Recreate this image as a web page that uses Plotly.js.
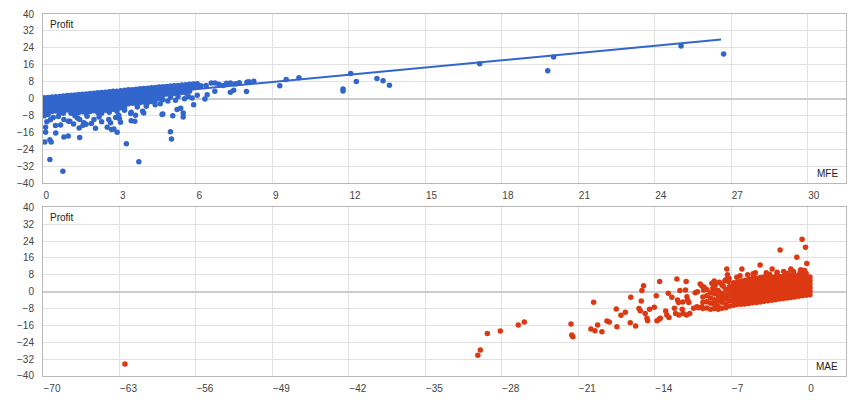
<!DOCTYPE html>
<html>
<head>
<meta charset="utf-8">
<script src="https://cdn.plot.ly/plotly-3.0.1.min.js"></script>
<style>html,body{margin:0;padding:0;background:#fff;}#chart{width:860px;height:400px;}</style>
</head>
<body>
<div id="chart"></div>
<script>
// ---- tick values ----
const mfeTicks = [0, 3, 6, 9, 12, 15, 18, 21, 24, 27, 30];
const maeTicks = [-70, -63, -56, -49, -42, -35, -28, -21, -14, -7, 0];
const profitTicks = [-40, -32, -24, -16, -8, 0, 8, 16, 24, 32, 40];

// ---- MFE vs Profit : dense cluster (read column by column) ----
const mfeCore = [
  0.05,0.05,0.05,0.05,0.05,0.05,
  0.2,0.2,0.2,0.2,0.2,0.2,
  0.35,0.35,0.35,0.35,0.35,
  0.5,0.5,0.5,0.5,0.5,
  0.65,0.65,0.65,0.65,0.65,0.65,
  0.8,0.8,0.8,0.8,0.8,0.8,
  0.95,0.95,0.95,0.95,0.95,
  1.1,1.1,1.1,1.1,1.1,1.1,
  1.25,1.25,1.25,1.25,1.25,1.25,1.25,
  1.4,1.4,1.4,1.4,1.4,1.4,
  1.55,1.55,1.55,1.55,1.55,1.55,
  1.7,1.7,1.7,1.7,1.7,1.7,1.7,
  1.85,1.85,1.85,1.85,1.85,1.85,
  2.0,2.0,2.0,2.0,2.0,2.0,
  2.15,2.15,2.15,2.15,2.15,2.15,2.15,
  2.3,2.3,2.3,2.3,2.3,2.3,2.3,
  2.45,2.45,2.45,2.45,2.45,2.45,
  2.6,2.6,2.6,2.6,2.6,2.6,2.6,
  2.75,2.75,2.75,2.75,2.75,2.75,
  2.9,2.9,2.9,2.9,2.9,2.9,2.9,
  3.05,3.05,3.05,3.05,3.05,3.05,
  3.2,3.2,3.2,3.2,3.2,3.2,
  3.35,3.35,3.35,3.35,3.35,
  3.5,3.5,3.5,3.5,3.5,
  3.65,3.65,3.65,3.65,3.65,
  3.8,3.8,3.8,3.8,3.8,
  3.95,3.95,3.95,3.95,3.95,
  4.1,4.1,4.1,4.1,4.1,
  4.25,4.25,4.25,4.25,4.25,
  4.4,4.4,4.4,4.4,4.4,
  4.55,4.55,4.55,4.55,
  4.7,4.7,4.7,4.7,
  4.85,4.85,4.85,
  5.0,5.0,5.0,5.0,
  5.15,5.15,5.15,
  5.3,5.3,5.3,5.3,
  5.45,5.45,5.45,
  5.6,5.6,5.6,
  5.75,5.75,5.75,
  5.9,5.9,
  6.05,6.05
];
const mfeCoreProfit = [
  0.4,-1.3,-3.0,-4.7,-6.4,-8.1,
  0.5,-1.2,-2.9,-4.6,-6.3,-7.5,
  0.7,-1.0,-2.7,-4.4,-6.1,
  0.9,-0.8,-2.5,-4.2,-5.9,
  1.0,-0.7,-2.4,-4.1,-5.8,-6.8,
  1.2,-0.5,-2.2,-3.9,-5.6,-7.0,
  1.4,-0.3,-2.0,-3.7,-5.4,
  1.5,-0.2,-1.9,-3.6,-5.3,-7.0,
  1.7,0.0,-1.7,-3.4,-5.1,-6.8,-8.2,
  1.9,0.2,-1.5,-3.2,-4.9,-6.6,
  2.0,0.3,-1.4,-3.1,-4.8,-6.3,
  2.2,0.5,-1.2,-2.9,-4.6,-6.3,-7.2,
  2.4,0.7,-1.0,-2.7,-4.4,-6.1,
  2.5,0.8,-0.9,-2.6,-4.3,-5.8,
  2.7,1.0,-0.7,-2.4,-4.1,-5.8,-6.6,
  2.9,1.2,-0.5,-2.2,-3.9,-5.6,-7.0,
  3.0,1.3,-0.4,-2.1,-3.8,-5.5,
  3.2,1.5,-0.2,-1.9,-3.6,-5.3,-6.5,
  3.4,1.7,0.0,-1.7,-3.4,-5.1,
  3.5,1.8,0.1,-1.6,-3.3,-5.0,-6.0,
  3.7,2.0,0.3,-1.4,-3.1,-4.4,
  3.9,2.2,0.5,-1.2,-2.9,-4.0,
  4.1,2.4,0.7,-1.0,-2.5,
  4.2,2.5,0.8,-0.9,-2.2,
  4.4,2.7,1.0,-0.7,-2.4,
  4.6,2.9,1.2,-0.5,-2.0,
  4.7,3.0,1.3,-0.4,-1.6,
  4.9,3.2,1.5,-0.2,-2.0,
  5.1,3.4,1.7,0.0,-1.4,
  5.2,3.5,1.8,0.1,-1.0,
  5.4,3.7,2.0,0.0,
  5.6,3.9,1.6,-0.6,
  5.7,4.0,2.2,
  5.9,4.2,2.5,0.6,
  6.0,4.3,2.4,
  6.2,4.5,2.6,1.0,
  6.4,4.7,3.0,
  6.5,4.6,2.6,
  6.7,5.0,3.4,
  6.9,5.2,
  7.0,5.3
];
// ---- MFE vs Profit : scattered points ----
const mfeOuter = [
  0.1,0.1,0.07,0.27,0.32,0.27,0.78,0.5,0.82,0.99,1.44,0.49,0.69,1.05,1.42,1.57,1.69,2.06,2.52,2.69,2.78,2.91,3.27,3.76,
  2.97,3.0,3.04,3.44,3.46,3.63,3.91,4.7,5.0,5.04,5.09,5.26,5.4,5.5,5.5,5.55,5.85,5.91,6.05,6.35,6.44,6.74,
  6.9,7.07,7.35,7.48,7.55,7.98,8.07,8.27,9.29,9.54,10.04,11.77,11.77,12.07,12.29,13.1,13.34,13.59,17.13,19.8,20.03,25.03,26.7,
  6.2,6.4,6.6,6.75,7.2,7.35,7.7,8.0,5.95,6.05,
  0.29,0.82,1.0,1.44,1.6,1.73,2.0,2.58,2.3,2.65,2.85,3.46,3.6,3.95,4.67,0.15,0.4,1.2,1.9,2.2,0.6,1.35,
  3.2,3.7,4.05,4.4,4.6,4.9,5.2,5.7
];
const mfeOuterProfit = [
  -13.6,-16,-20.6,-19.5,-20.6,-28.8,-34.4,-16.3,-18.2,-17.7,-18.5,-12.8,-12.5,-10.8,-13.9,-12.6,-12.2,-14.1,-13.6,-14.7,-14.4,-16,-21.4,-29.9,
  -7.9,-9.6,-11.2,-7.1,-10.5,-7.9,-6,-7.3,-15.7,-19.2,-8.1,-5.2,-4.6,-6.8,-8.7,-0.1,0.2,-3.0,1.5,-0.2,1.8,3.5,
  6.7,6.2,3.0,3.9,7.0,3.3,7.9,8.2,6.0,9.0,9.8,4.5,3.6,11.8,8.0,9.5,8.4,6.3,16.4,13.1,19.7,24.8,21.1,
  6.0,6.2,7.3,7.4,7.2,7.3,7.5,7.7,5.4,5.8,
  -10,-9.9,-10.8,-9.9,-11.5,-8.4,-9.9,-9.9,-11,-11.5,-9,-6.5,-10.8,-6.8,-7.6,-11,-9,-12,-11.8,-8.8,-8.5,-9.2,
  -5.5,-4,-3.6,-3,-2.5,-1.2,-0.8,1.0
];
// ---- MFE trend line (end points) ----
const trendMfe = [0, 26.6];
const trendProfit = [-2.4, 27.9];

// ---- MAE vs Profit : dense cluster ----
const maeCore = [
  -9.6,-9.6,-9.6,
  -9.25,-9.25,-9.25,-9.25,
  -8.9,-8.9,-8.9,-8.9,
  -8.55,-8.55,-8.55,-8.55,-8.55,
  -8.2,-8.2,-8.2,-8.2,-8.2,
  -7.85,-7.85,-7.85,-7.85,
  -7.5,-7.5,-7.5,-7.5,-7.5,
  -7.15,-7.15,-7.15,-7.15,-7.15,
  -6.8,-6.8,-6.8,-6.8,-6.8,-6.8,-6.8,
  -6.45,-6.45,-6.45,-6.45,-6.45,-6.45,-6.45,
  -6.1,-6.1,-6.1,-6.1,-6.1,-6.1,-6.1,-6.1,
  -5.75,-5.75,-5.75,-5.75,-5.75,-5.75,-5.75,-5.75,
  -5.4,-5.4,-5.4,-5.4,-5.4,-5.4,-5.4,-5.4,
  -5.05,-5.05,-5.05,-5.05,-5.05,-5.05,-5.05,-5.05,
  -4.7,-4.7,-4.7,-4.7,-4.7,-4.7,-4.7,-4.7,
  -4.35,-4.35,-4.35,-4.35,-4.35,-4.35,-4.35,-4.35,
  -4.0,-4.0,-4.0,-4.0,-4.0,-4.0,-4.0,-4.0,
  -3.65,-3.65,-3.65,-3.65,-3.65,-3.65,-3.65,-3.65,
  -3.3,-3.3,-3.3,-3.3,-3.3,-3.3,-3.3,-3.3,
  -2.95,-2.95,-2.95,-2.95,-2.95,-2.95,-2.95,-2.95,
  -2.6,-2.6,-2.6,-2.6,-2.6,-2.6,-2.6,
  -2.25,-2.25,-2.25,-2.25,-2.25,-2.25,-2.25,
  -1.9,-1.9,-1.9,-1.9,-1.9,-1.9,-1.9,
  -1.55,-1.55,-1.55,-1.55,-1.55,-1.55,-1.55,
  -1.2,-1.2,-1.2,-1.2,-1.2,-1.2,-1.2,
  -0.85,-0.85,-0.85,-0.85,-0.85,-0.85,-0.85,
  -0.5,-0.5,-0.5,-0.5,-0.5,-0.5,-0.5,
  -0.15,-0.15,-0.15,-0.15,-0.15,-0.15,-0.15,
  0.2,0.2,0.2,0.2,0.2,0.2
];
const maeCoreProfit = [
  -2.5,-5.0,-8.0,
  1.0,-2.0,-4.8,-7.8,
  -0.5,-3.0,-5.5,-8.3,
  1.5,-1.0,-3.8,-6.0,-8.0,
  0.5,-2.0,-4.5,-7.0,-8.3,
  3.0,-2.8,-5.0,-7.9,
  1.0,-1.5,-3.5,-5.8,-7.6,
  2.5,0.2,-2.0,-4.3,-6.8,
  4.2,2.5,0.8,-0.9,-2.6,-4.4,-6.4,
  4.6,2.9,1.2,-0.5,-2.2,-3.9,-6.1,
  5.0,3.3,1.6,-0.1,-1.8,-3.5,-5.2,-6.0,
  5.4,3.7,2.0,0.3,-1.4,-3.1,-4.8,-5.8,
  5.8,4.1,2.4,0.7,-1.0,-2.7,-4.4,-5.6,
  6.2,4.5,2.8,1.1,-0.6,-2.3,-4.0,-5.3,
  6.4,4.7,3.0,1.3,-0.4,-2.1,-3.8,-5.1,
  6.7,5.0,3.3,1.6,-0.1,-1.8,-3.5,-4.9,
  7.0,5.3,3.6,1.9,0.2,-1.5,-3.2,-4.6,
  7.0,5.3,3.6,1.9,0.2,-1.5,-3.2,-4.3,
  7.0,5.3,3.6,1.9,0.2,-1.5,-3.2,-4.1,
  7.1,5.4,3.7,2.0,0.3,-1.4,-2.9,-3.8,
  7.2,5.5,3.8,2.1,0.4,-1.3,-3.5,
  7.2,5.5,3.8,2.1,0.4,-1.3,-3.3,
  7.3,5.6,3.9,2.2,0.5,-1.2,-3.0,
  7.4,5.7,4.0,2.3,0.6,-1.1,-2.8,
  7.5,5.8,4.1,2.4,0.7,-1.0,-2.5,
  7.8,6.1,4.4,2.7,1.0,-0.7,-2.2,
  8.0,6.3,4.6,2.9,1.2,-0.5,-2.0,
  8.6,6.9,5.2,3.5,1.8,0.1,-1.7,
  7.0,5.3,3.6,1.9,0.2,-1.45
];
// ---- MAE vs Profit : scattered points ----
const maeOuter = [
  -62.5,-30.2,-29.97,-29.33,-28.14,-26.5,-25.95,
  -21.67,-21.6,-21.5,-19.6,-19.85,-19.48,-19.24,-18.84,-18.38,-18.17,-17.53,-17.47,-17.1,-16.7,-16.25,-15.76,-16.2,-15.45,-15.33,-15.24,-15.18,-15.03,
  -14.88,-14.72,-14.66,-14.48,-14.05,-13.87,-13.8,-13.6,-13.5,-13.56,-13.0,-12.9,-12.77,-12.7,-12.44,-12.2,-11.98,-11.92,-11.83,-12.1,-11.8,-11.7,
  -11.49,-11.43,-11.19,-11.13,-11.06,-11.0,-10.88,-11.4,-11.1,-10.8,-10.45,-10.15,-10.3,-10.1,-9.85,-9.69,-9.54,-9.48,-10.0,-9.7,
  -8.78,-8.69,-8.56,-8.47,-8.17,-7.86,-7.71,-7.5,-7.25,
  -7.41,-7.35,-7.2,-7.6,-8.1,-6.5,-6.03,-5.5,-4.36,-4.8,-3.26,-3.8,-2.2,-2.53,-1.55,-1.0,-0.64,-0.52,-0.21,-0.09,-1.3,-0.3,-2.8,-5.0,-3.5,-1.8,-6.2,-4.97,-3.75,-2.83,-1.92,-1.31,-0.7
];
const maeOuterProfit = [
  -34.3,-30.1,-27.7,-19.8,-18.7,-15.8,-14.4,
  -15.3,-20.6,-21.4,-5.0,-17.7,-18.5,-15.8,-19.0,-13.9,-14.4,-8.2,-16.6,-11.2,-9.8,-14.7,-16.3,-2.6,-8.0,-9.0,-4.4,0.5,2.8,
  -10.3,-12.6,-13.8,-8.3,-7.4,-1.9,-13.8,-13.1,-12.6,4.8,-9.2,-11.1,-0.8,-12.2,-2.7,-7.9,6.0,-3.9,-5.2,-10.3,-11.1,0.5,
  -8.4,-4.9,0.8,4.8,-2.4,-4.0,-5.2,-10.3,-11.1,-10.3,-7.9,-7.1,-0.5,0,3.67,2.7,0.8,2.1,-7.6,-7.2,
  3.99,1.6,5.1,3.2,-3.9,-0.8,2.4,5.6,4.8,
  10.7,8.0,6.2,5.0,4.5,6.8,10.7,8.0,12.7,9.0,10.7,9.0,9.6,19.8,10.7,16.3,10.4,24.9,21.1,13.3,9.5,10.0,9.2,8.5,8.3,8.7,7.5,7.5,8.0,8.4,8.0,8.7,9.0
];

const blue = '#3366cc';
const red = '#dc3912';
const markerSize = 5.5;

const traces = [
  {type:'scatter', mode:'markers', x: mfeCore.concat(mfeOuter), y: mfeCoreProfit.concat(mfeOuterProfit),
   xaxis:'x', yaxis:'y', marker:{color:blue, size:markerSize, line:{width:0}}, hoverinfo:'skip'},
  {type:'scatter', mode:'lines', x: trendMfe, y: trendProfit, xaxis:'x', yaxis:'y',
   line:{color:blue, width:2}, hoverinfo:'skip'},
  {type:'scatter', mode:'markers', x: maeCore.concat(maeOuter), y: maeCoreProfit.concat(maeOuterProfit),
   xaxis:'x2', yaxis:'y2', marker:{color:red, size:markerSize, line:{width:0}}, hoverinfo:'skip'}
];

const gridCol = '#e2e2e2';
const frameCol = '#b8b8b8';
const xCommon = {showgrid:true, gridcolor:gridCol, gridwidth:1, zeroline:false, showline:true, mirror:true,
  linecolor:frameCol, linewidth:1, ticks:'', ticklabelposition:'outside right', ticklabelstandoff:3,
  tickfont:{size:10, color:'#444'}, tickmode:'array'};
const yCommon = {showgrid:true, gridcolor:gridCol, gridwidth:1, zeroline:true, zerolinecolor:'#cccccc', zerolinewidth:2,
  showline:true, mirror:true, linecolor:frameCol, linewidth:1, ticks:'', ticklabelstandoff:6,
  tickfont:{size:10, color:'#444'}, tickmode:'array', tickvals:profitTicks, range:[-40,40]};

const layout = {
  width:860, height:400,
  margin:{l:43, r:14, t:14, b:24},
  paper_bgcolor:'#fff', plot_bgcolor:'#fff',
  font:{family:'Arial, "Liberation Sans", sans-serif', size:10, color:'#444'},
  showlegend:false, hovermode:false,
  xaxis: Object.assign({}, xCommon, {anchor:'y', domain:[0,1], range:[0,31.5], tickvals:mfeTicks}),
  yaxis: Object.assign({}, yCommon, {anchor:'x', domain:[0.533,1]}),
  xaxis2: Object.assign({}, xCommon, {anchor:'y2', domain:[0,1], range:[-70,3.5], tickvals:maeTicks}),
  yaxis2: Object.assign({}, yCommon, {anchor:'x2', domain:[0,0.466]}),
  annotations:[
    {text:'Profit', xref:'x domain', yref:'y domain', x:0, y:1, xanchor:'left', yanchor:'top', xshift:5, yshift:-3, showarrow:false, font:{size:10, color:'#222'}},
    {text:'MFE', xref:'x domain', yref:'y domain', x:1, y:0, xanchor:'right', yanchor:'bottom', xshift:-6, yshift:2, showarrow:false, font:{size:10, color:'#222'}},
    {text:'Profit', xref:'x2 domain', yref:'y2 domain', x:0, y:1, xanchor:'left', yanchor:'top', xshift:5, yshift:-3, showarrow:false, font:{size:10, color:'#222'}},
    {text:'MAE', xref:'x2 domain', yref:'y2 domain', x:1, y:0, xanchor:'right', yanchor:'bottom', xshift:-6, yshift:2, showarrow:false, font:{size:10, color:'#222'}}
  ]
};

Plotly.newPlot('chart', traces, layout, {staticPlot:true, displayModeBar:false});
</script>
</body>
</html>
